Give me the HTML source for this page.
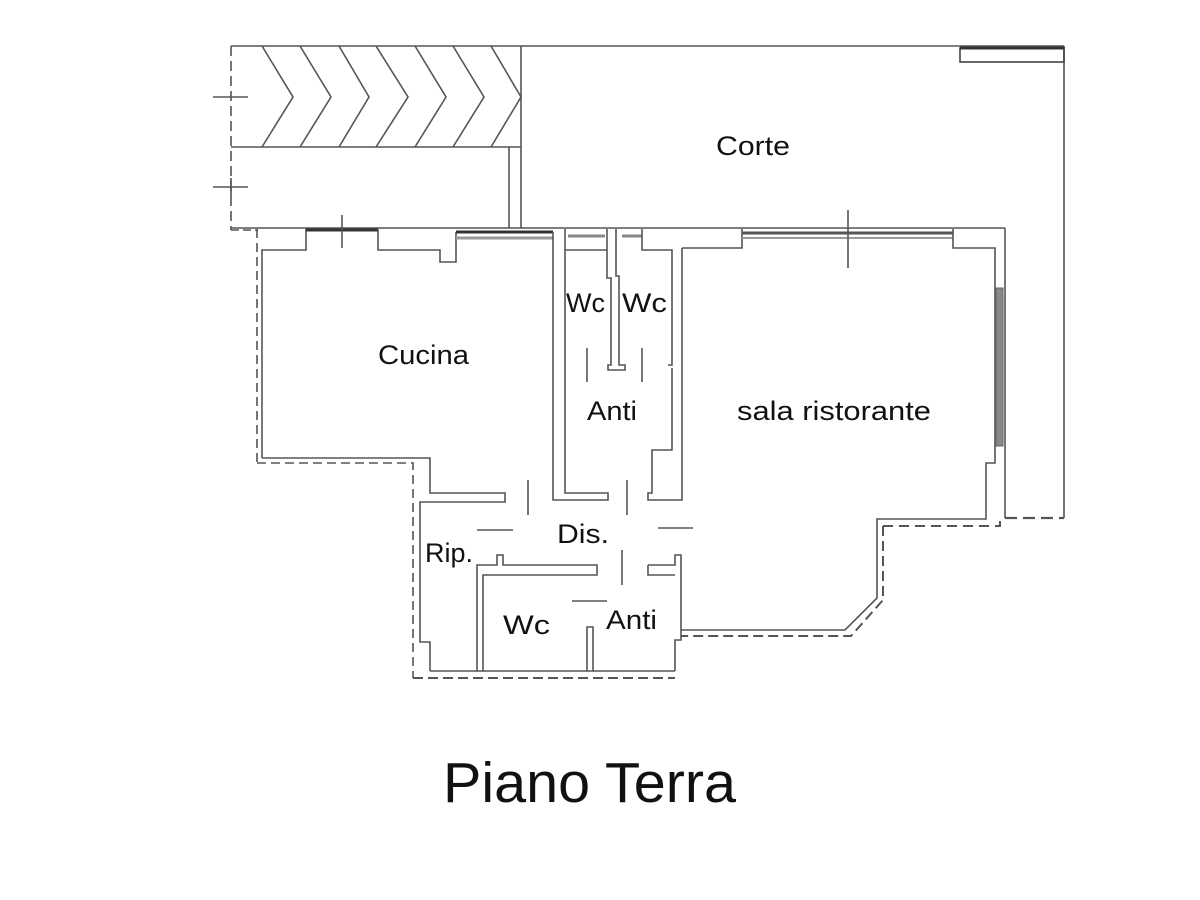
<!DOCTYPE html>
<html><head><meta charset="utf-8"><style>
html,body{margin:0;padding:0;background:#fff}
svg{display:block}
text{font-family:"Liberation Sans",Arial,sans-serif;fill:#111}
</style></head><body>
<svg width="1200" height="900" viewBox="0 0 1200 900" xmlns="http://www.w3.org/2000/svg">
<g fill="none" stroke="#555" stroke-width="1.6">
<line x1="231" y1="46" x2="1064" y2="46"/>
<line x1="1064" y1="46" x2="1064" y2="518"/>
<line x1="1005" y1="518" x2="1064" y2="518" stroke-dasharray="12,6" stroke-width="2.2"/>
<rect x="960" y="48" width="104" height="14" stroke="#444"/>
<line x1="960" y1="48" x2="1064" y2="48" stroke-width="3" stroke="#333"/>
<line x1="231" y1="46" x2="231" y2="230" stroke-dasharray="10,5"/>
<line x1="231" y1="230" x2="258" y2="230" stroke-dasharray="8,4"/>
<line x1="213" y1="97" x2="248" y2="97"/>
<line x1="213" y1="187" x2="248" y2="187"/>
<line x1="231" y1="178" x2="231" y2="196"/>
<line x1="231" y1="147" x2="521" y2="147"/>
<line x1="521" y1="46" x2="521" y2="228"/>
<line x1="509" y1="147" x2="509" y2="228"/>
<polyline points="262,46 293,97 262,147"/>
<polyline points="300,46 331,97 300,147"/>
<polyline points="339,46 369,97 339,147"/>
<polyline points="376,46 408,97 376,147"/>
<polyline points="415,46 446,97 415,147"/>
<polyline points="453,46 484,97 453,147"/>
<polyline points="491,46 521,97 491,147"/>
<line x1="231" y1="228" x2="1005" y2="228"/>
<line x1="257" y1="229" x2="257" y2="463" stroke-dasharray="9,5"/>
<polyline points="262,458 262,250 306,250 306,229"/>
<line x1="306" y1="230" x2="378" y2="230" stroke-width="3" stroke="#333"/>
<line x1="342" y1="215" x2="342" y2="248"/>
<polyline points="378,229 378,250 440,250 440,262 456,262 456,232"/>
<line x1="456" y1="232" x2="553" y2="232" stroke-width="3" stroke="#333"/>
<line x1="456" y1="238" x2="553" y2="238" stroke-width="3" stroke="#999"/>
<polyline points="262,458 430,458 430,493 505,493 505,502 420,502 420,642 430,642 430,671"/>
<polyline points="257,463 413,463 413,678" stroke-dasharray="9,5"/>
<line x1="413" y1="678" x2="675" y2="678" stroke-dasharray="10,5" stroke-width="2"/>
<line x1="528" y1="480" x2="528" y2="515"/>
<line x1="477" y1="530" x2="513" y2="530"/>
<polyline points="553,232 553,500 608,500 608,493 565,493 565,250 607,250"/>
<polyline points="565,229 565,250"/>
<line x1="568" y1="236" x2="605" y2="236" stroke-width="3" stroke="#888"/>
<line x1="622" y1="236" x2="642" y2="236" stroke-width="3" stroke="#888"/>
<polyline points="607,229 607,278 611,278 611,365 608,365 608,370 625,370 625,365 619,365 619,276 616,276 616,229"/>
<polyline points="642,229 642,250 672,250 672,365 668,365"/>
<polyline points="672,368 672,450 652,450 652,493 648,493 648,500 682,500 682,248"/>
<line x1="587" y1="348" x2="587" y2="382"/>
<line x1="642" y1="348" x2="642" y2="382"/>
<line x1="627" y1="480" x2="627" y2="515"/>
<line x1="658" y1="528" x2="693" y2="528"/>
<line x1="622" y1="550" x2="622" y2="585"/>
<polyline points="477,671 477,565 497,565 497,555 503,555 503,565 597,565 597,575 483,575 483,671"/>
<polyline points="648,565 675,565 675,555 681,555 681,640 675,640 675,671"/>
<polyline points="648,565 648,575 675,575"/>
<polyline points="430,671 675,671"/>
<polyline points="587,671 587,627 593,627 593,671"/>
<line x1="572" y1="601" x2="607" y2="601"/>
<polyline points="682,248 742,248 742,229"/>
<line x1="742" y1="233" x2="953" y2="233" stroke-width="3" stroke="#555"/>
<line x1="742" y1="238" x2="953" y2="238" stroke-width="2" stroke="#999"/>
<line x1="848" y1="210" x2="848" y2="268"/>
<polyline points="953,229 953,248 995,248 995,463 986,463 986,519 877,519 877,598 845,630 681,630"/>
<line x1="1005" y1="228" x2="1005" y2="518"/>
<rect x="996" y="288" width="7" height="158" fill="#888" stroke="#666" stroke-width="1"/>
<polyline points="883,526 1000,526 1000,518" stroke-dasharray="10,6" stroke-width="2"/>
<polyline points="883,526 883,600 851,636 681,636" stroke-dasharray="10,5" stroke-width="2"/>
</g>
<g font-size="27">
<text x="716" y="155" textLength="74" lengthAdjust="spacingAndGlyphs">Corte</text>
<text x="378" y="364" textLength="91" lengthAdjust="spacingAndGlyphs">Cucina</text>
<text x="566" y="312" textLength="39" lengthAdjust="spacingAndGlyphs">Wc</text>
<text x="622" y="312" textLength="45" lengthAdjust="spacingAndGlyphs">Wc</text>
<text x="587" y="420" textLength="50" lengthAdjust="spacingAndGlyphs">Anti</text>
<text x="737" y="420" textLength="194" lengthAdjust="spacingAndGlyphs">sala ristorante</text>
<text x="557" y="543" textLength="52" lengthAdjust="spacingAndGlyphs">Dis.</text>
<text x="425" y="562" textLength="48" lengthAdjust="spacingAndGlyphs">Rip.</text>
<text x="503" y="634" textLength="47" lengthAdjust="spacingAndGlyphs">Wc</text>
<text x="606" y="629" textLength="51" lengthAdjust="spacingAndGlyphs">Anti</text>
</g>
<text x="443" y="802" font-size="57" textLength="293" lengthAdjust="spacingAndGlyphs">Piano Terra</text>
</svg>
</body></html>
